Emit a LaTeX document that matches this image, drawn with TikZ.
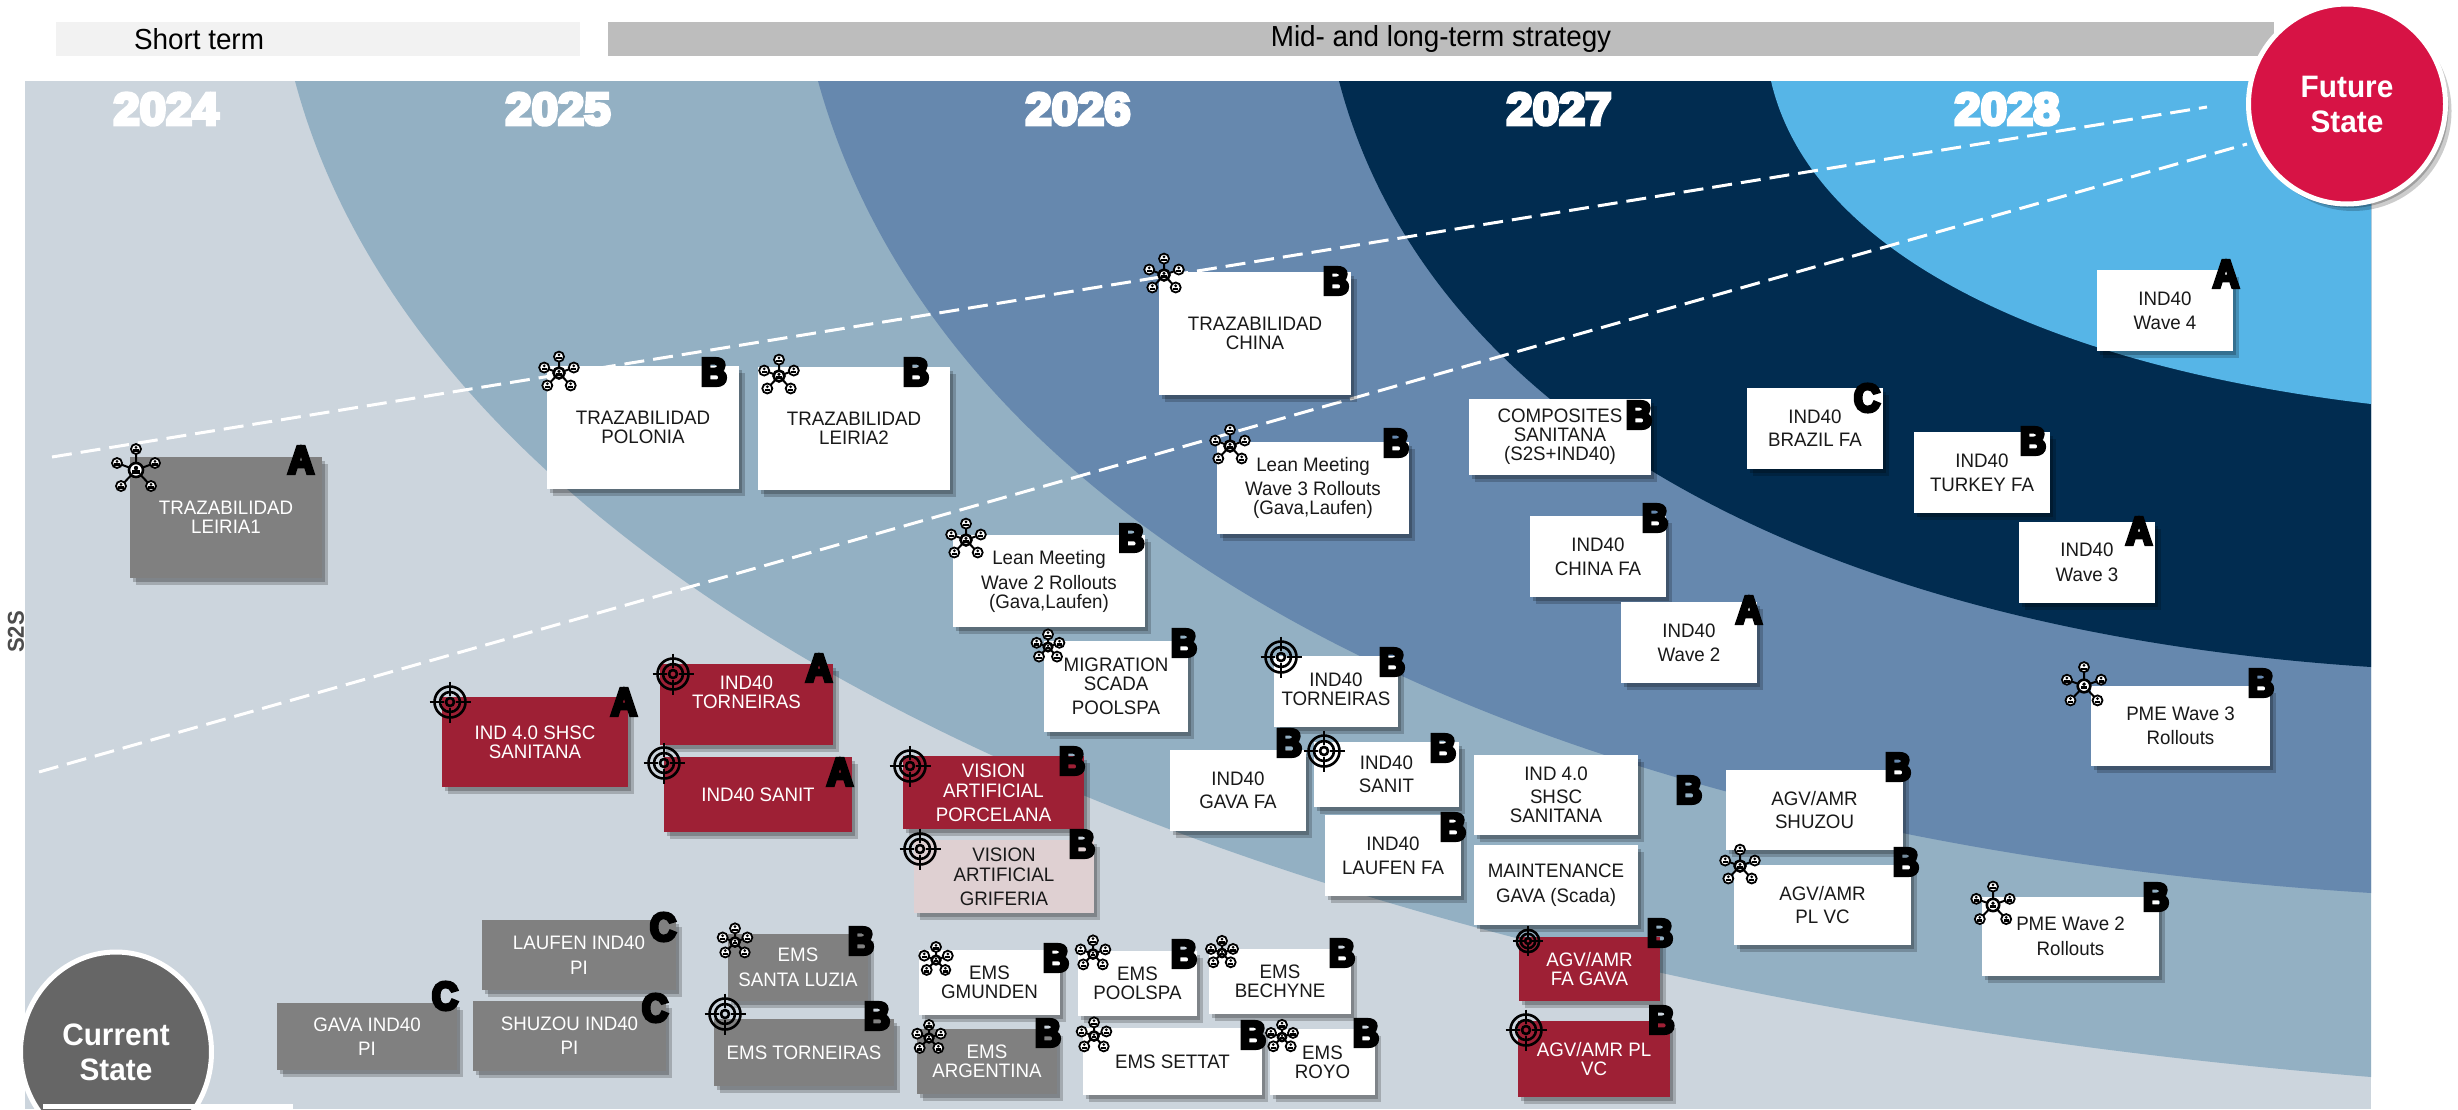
\documentclass[tikz,border=0pt]{standalone}
\usepackage{fontspec}
\setmainfont[FakeStretch=0.96]{Liberation Sans}
\newfontfamily\heavyfont[FakeBold=9,FakeStretch=0.92]{Liberation Sans Bold}
\newfontfamily\yearfont[FakeBold=8,FakeStretch=1.05]{Liberation Sans Bold}
\usetikzlibrary{shadows,shapes.geometric}

\definecolor{panelgray}{HTML}{CCD5DD}
\definecolor{yearone}{HTML}{93B0C3}
\definecolor{yeartwo}{HTML}{6688AE}
\definecolor{yearthree}{HTML}{012C50}
\definecolor{yearfour}{HTML}{56B5E7}
\definecolor{redbox}{HTML}{9E2035}
\definecolor{pinkbox}{HTML}{DFD0D2}
\definecolor{graybox}{HTML}{808080}
\definecolor{futurered}{HTML}{D71345}

\tikzset{
  boxsize/.style 2 args={minimum width=#1,minimum height=#2},
  softshadow/.style={drop shadow={shadow xshift=3pt,shadow yshift=-4pt,fill=black,opacity=.22},
    drop shadow={shadow xshift=6pt,shadow yshift=-7pt,fill=black,opacity=.2}},
  task/.style={rectangle,inner sep=0,align=center,softshadow,
    font=\fontsize{19.5}{19}\selectfont},
  taskw/.style={task,fill=white,text=black!90},
  taskg/.style={task,fill=graybox,text=white},
  taskr/.style={task,fill=redbox,text=white},
  taskp/.style={task,fill=pinkbox,text=black!90},
  grade/.style={inner sep=0,font=\heavyfont\fontsize{39}{39}\selectfont},
  year/.style={inner sep=0,text=white,font=\yearfont\fontsize{45}{45}\selectfont},
  bar/.style={rectangle,inner sep=0,text=black,font=\fontsize{29}{29}\selectfont},
  state/.style={ellipse,inner sep=0,draw=white,line width=5pt,text=white,align=center,
    font=\bfseries\fontsize{31}{35}\selectfont},
  guide/.style={white,line width=3pt,dash pattern=on 20pt off 9pt},
  hubdot/.pic={
    \draw[line width=1.8pt,fill=white] (0,0) circle (5);
    \fill (0,-1.7) circle (1.5);
    \fill (-2.6,0.4) rectangle (2.6,2.8);
  },
  hub/.pic={
    \draw[line width=2pt] (0,0) -- (0,-21) (0,0) -- (-19,-7) (0,0) -- (19,-7) (0,0) -- (-15,16) (0,0) -- (15,16);
    \pic at (0,-21) {hubdot};
    \pic at (-19,-7) {hubdot};
    \pic at (19,-7) {hubdot};
    \pic at (-15,16) {hubdot};
    \pic at (15,16) {hubdot};
    \draw[line width=2.6pt,fill=white] (0,0) circle (7);
    \fill (0,-2) circle (2.2);
    \fill (-3.8,0.3) rectangle (3.8,3.8);
  },
  target/.pic={
    \draw[line width=2.6pt] (0,0) circle (15.5) (0,0) circle (10) (0,0) circle (4);
    \draw[line width=2.4pt] (-20.5,0) -- (-6,0) (6,0) -- (20.5,0) (0,-20.5) -- (0,-6) (0,6) -- (0,20.5);
  }
}

\begin{document}
\begin{tikzpicture}[x=1pt,y=-1pt]
\clip (0,0) rectangle (2458,1109);
\fill[white] (0,0) rectangle (2458,1109);

% time bars
\node[bar,fill=black!5,boxsize={524}{34}] (shortbar) at (318,39) {};
\node[bar] (shorttxt) at (199,39) {Short term};
\node[bar,fill=black!26,boxsize={1666}{34}] (midbar) at (1441,39) {Mid- and long-term strategy};

% panel and year bands
\fill[panelgray] (25,81) rectangle (2371,1109);
\fill[yearone] (295,81) .. controls (435,605) and (1240,985) .. (2371,1077) -- (2371,81) -- cycle;
\fill[yeartwo] (818,81) .. controls (945,540) and (1530,840) .. (2371,893) -- (2371,81) -- cycle;
\fill[yearthree] (1339,81) .. controls (1425,410) and (1800,630) .. (2371,667) -- (2371,81) -- cycle;
\fill[yearfour] (1771,81) .. controls (1810,250) and (2040,365) .. (2371,404) -- (2371,81) -- cycle;

\node[year] (y2024) at (166,109) {2024};
\node[year] (y2025) at (558,109) {2025};
\node[year] (y2026) at (1078,109) {2026};
\node[year] (y2027) at (1559,109) {2027};
\node[year] (y2028) at (2007,109) {2028};

\node[rotate=90,inner sep=0,text=black!70,font=\bfseries\fontsize{23}{23}\selectfont] (s2s) at (16,632) {S2S};

% dashed guides
\coordinate (guideAa) at (52,457);
\coordinate (guideAb) at (2207,107);
\coordinate (guideBa) at (39,772);
\coordinate (guideBb) at (2247,144);
\draw[guide] (guideAa) -- (guideAb);
\draw[guide] (guideBa) -- (guideBb);

% gray boxes
\node[taskg,boxsize={192}{121}] (leiria1) at (226,517.5) {TRAZABILIDAD\\LEIRIA1};
\node[taskg,boxsize={194}{70}] (laufenpi) at (579,955) {LAUFEN IND40\\[6pt]PI};
\node[taskg,boxsize={180}{67}] (gavapi) at (367,1036.5) {GAVA IND40\\[5pt]PI};
\node[taskg,boxsize={193}{70}] (shuzoupi) at (569.5,1036) {SHUZOU IND40\\[5pt]PI};
\node[taskg,boxsize={140}{67}] (luzia) at (798,967.5) {EMS\\[6pt]SANTA LUZIA};
\node[taskg,boxsize={180}{67}] (emstorn) at (804,1052.5) {EMS TORNEIRAS};
\node[taskg,boxsize={140}{65}] (argentina) at (987,1061.5) {EMS\\ARGENTINA};

% red and pink boxes
\node[taskr,boxsize={186}{90}] (shscred) at (535,742) {IND 4.0 SHSC\\SANITANA};
\node[taskr,boxsize={173}{81}] (tornred) at (746.5,704.5) {IND40\\TORNEIRAS\rule[-24pt]{0pt}{0pt}};
\node[taskr,boxsize={188}{75}] (sanitred) at (758,794.5) {IND40 SANIT};
\node[taskr,boxsize={181}{73}] (porcelana) at (993.5,792.5) {VISION\\[1pt]ARTIFICIAL\\[5pt]PORCELANA};
\node[taskp,boxsize={180}{73}] (griferia) at (1004,876.5) {VISION\\[1pt]ARTIFICIAL\\[5pt]GRIFERIA};
\node[taskr,boxsize={141}{64}] (agvgava) at (1589.5,969) {AGV/AMR\\FA GAVA};
\node[taskr,boxsize={152}{76}] (agvplred) at (1594,1059) {AGV/AMR PL\\VC};

% white boxes
\node[taskw,boxsize={192}{123}] (polonia) at (643,427.5) {TRAZABILIDAD\\POLONIA};
\node[taskw,boxsize={192}{123}] (leiria2) at (854,428.5) {TRAZABILIDAD\\LEIRIA2};
\node[taskw,boxsize={192}{123}] (china) at (1255,333.5) {TRAZABILIDAD\\CHINA};
\node[taskw,boxsize={192}{92}] (leanthree) at (1313,488) {Lean Meeting\\[5pt]Wave 3 Rollouts\\(Gava,Laufen)};
\node[taskw,boxsize={192}{92}] (leantwo) at (1049,581) {Lean Meeting\\[6pt]Wave 2 Rollouts\\(Gava,Laufen)};
\node[taskw,boxsize={182}{76}] (composites) at (1560,437) {COMPOSITES\\SANITANA\\(S2S+IND40)};
\node[taskw,boxsize={136}{81}] (chinafa) at (1598,556.5) {IND40\\[5pt]CHINA FA};
\node[taskw,boxsize={136}{81}] (wavetwo) at (1689,642.5) {IND40\\[5pt]Wave 2};
\node[taskw,boxsize={136}{81}] (brazil) at (1815,428.5) {IND40\\[4pt]BRAZIL FA};
\node[taskw,boxsize={136}{81}] (turkey) at (1982,472.5) {IND40\\[5pt]TURKEY FA};
\node[taskw,boxsize={136}{81}] (wavethree) at (2087,562.5) {IND40\\[6pt]Wave 3};
\node[taskw,boxsize={136}{81}] (wavefour) at (2165,310.5) {IND40\\[5pt]Wave 4};
\node[taskw,boxsize={179}{80}] (pmethree) at (2180.5,726) {PME Wave 3\\[5pt]Rollouts};
\node[taskw,boxsize={177}{80}] (agvshuzou) at (1814.5,810) {AGV/AMR\\[4pt]SHUZOU};
\node[taskw,boxsize={177}{80}] (agvpl) at (1822.5,905) {AGV/AMR\\[4pt]PL VC};
\node[taskw,boxsize={164}{80}] (shsc) at (1556,795) {IND 4.0\\[4pt]SHSC\\SANITANA};
\node[taskw,boxsize={164}{80}] (maint) at (1556,885) {MAINTENANCE\\[6pt]GAVA (Scada)};
\node[taskw,boxsize={177}{79}] (pmetwo) at (2070.5,936.5) {PME Wave 2\\[6pt]Rollouts};
\node[taskw,boxsize={124}{71}] (tornfa) at (1336,691.5) {IND40\\TORNEIRAS\rule[-4pt]{0pt}{0pt}};
\node[taskw,boxsize={145}{65}] (sanitfa) at (1386.5,774.5) {IND40\\[4pt]SANIT};
\node[taskw,boxsize={136}{81}] (gavafa) at (1238,790.5) {IND40\\[4pt]GAVA FA};
\node[taskw,boxsize={136}{81}] (laufenfa) at (1393,855.5) {IND40\\[5pt]LAUFEN FA};
\node[taskw,boxsize={144}{91}] (migration) at (1116,686.5) {MIGRATION\\SCADA\\[5pt]POOLSPA};
\node[taskw,boxsize={141}{65}] (gmunden) at (989.5,982.5) {EMS\\GMUNDEN};
\node[taskw,boxsize={119}{65}] (poolspa) at (1137.5,983.5) {EMS\\POOLSPA};
\node[taskw,boxsize={142}{65}] (bechyne) at (1280,981.5) {EMS\\BECHYNE};
\node[taskw,boxsize={179}{67}] (settat) at (1172.5,1061.5) {EMS SETTAT};
\node[taskw,boxsize={105}{66}] (royo) at (1322.5,1062) {EMS\\ROYO};

% grades
\node[grade] (gleiria1) at (301,460) {A};
\node[grade] (glaufenpi) at (663,927) {C};
\node[grade] (ggavapi) at (445,996) {C};
\node[grade] (gshuzoupi) at (655,1008) {C};
\node[grade] (gluzia) at (861,941) {B};
\node[grade] (gemstorn) at (877,1016) {B};
\node[grade] (gargentina) at (1048,1033) {B};
\node[grade] (gshscred) at (624,702) {A};
\node[grade] (gtornred) at (819,668) {A};
\node[grade] (gsanitred) at (840,772) {A};
\node[grade] (gporcelana) at (1072,761) {B};
\node[grade] (ggriferia) at (1082,844) {B};
\node[grade] (gagvgava) at (1660,933) {B};
\node[grade] (gagvplred) at (1661.5,1020) {B};
\node[grade] (gpolonia) at (714,372) {B};
\node[grade] (gleiria2) at (916,372) {B};
\node[grade] (gchina) at (1336,281) {B};
\node[grade] (gleanthree) at (1396,443) {B};
\node[grade] (gleantwo) at (1131.5,538) {B};
\node[grade] (gcomposites) at (1639,415) {B};
\node[grade] (gchinafa) at (1655,518) {B};
\node[grade] (gwavetwo) at (1749,610) {A};
\node[grade] (gbrazil) at (1867,398) {C};
\node[grade] (gturkey) at (2033,441) {B};
\node[grade] (gwavethree) at (2139,531) {A};
\node[grade] (gwavefour) at (2226,274) {A};
\node[grade] (gpmethree) at (2261,683) {B};
\node[grade] (gagvshuzou) at (1898,767) {B};
\node[grade] (gagvpl) at (1906,862) {B};
\node[grade] (gshsc) at (1689,790) {B};
\node[grade] (gpmetwo) at (2156,897) {B};
\node[grade] (gtornfa) at (1392,662) {B};
\node[grade] (gsanitfa) at (1443,748) {B};
\node[grade] (ggavafa) at (1289,743) {B};
\node[grade] (glaufenfa) at (1453,827) {B};
\node[grade] (gmigration) at (1184,643) {B};
\node[grade] (ggmunden) at (1056,958) {B};
\node[grade] (gpoolspa) at (1184,954) {B};
\node[grade] (gbechyne) at (1342,953) {B};
\node[grade] (gsettat) at (1253,1035) {B};
\node[grade] (groyo) at (1366,1033) {B};

% hub icons
\pic[scale=1] at (136,470) {hub};
\pic[scale=.78] at (559,373) {hub};
\pic[scale=.78] at (779,376) {hub};
\pic[scale=.78] at (1164,275) {hub};
\pic[scale=.78] at (1230,446) {hub};
\pic[scale=.78] at (966,540) {hub};
\pic[scale=.6] at (1048,647) {hub};
\pic[scale=.9] at (2084,686) {hub};
\pic[scale=.78] at (1740,866) {hub};
\pic[scale=.88] at (1993,905) {hub};
\pic[scale=.65] at (735,942) {hub};
\pic[scale=.62] at (936,960) {hub};
\pic[scale=.62] at (929,1038) {hub};
\pic[scale=.65] at (1093,954) {hub};
\pic[scale=.58] at (1222,953) {hub};
\pic[scale=.65] at (1094,1036) {hub};
\pic[scale=.58] at (1282,1037) {hub};

% target icons
\pic at (450,702) {target};
\pic at (673,674) {target};
\pic at (664,763) {target};
\pic at (910,766) {target};
\pic at (920,849) {target};
\pic at (725,1014) {target};
\pic at (1281,657) {target};
\pic at (1324,751) {target};
\pic[scale=.72] at (1528,941) {target};
\pic at (1526,1030) {target};

% end states
\node[state,fill=futurered,boxsize={197}{200},softshadow] (future) at (2347,104) {Future\\State};
\node[state,fill=black!60,boxsize={191}{200}] (current) at (116,1052) {Current\\State};
\fill[white] (43,1104) rectangle (293,1109);
\end{tikzpicture}
\end{document}
